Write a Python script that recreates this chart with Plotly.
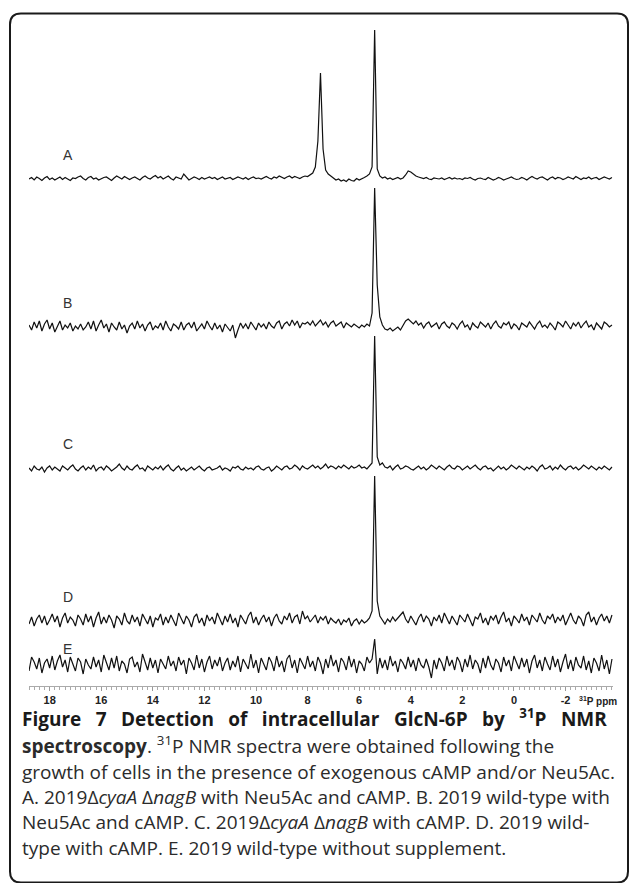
import numpy as np
import plotly.graph_objects as go

# ---------------- data ----------------
PPM_MAX, PPM_STEP, N_PTS = 18.8, 0.1, 227
ppm = np.round(PPM_MAX - PPM_STEP * np.arange(N_PTS), 2)

trace_labels = ["A", "B", "C", "D", "E"]

spec_A = [
    0, 1.5, -1, 2, 0.5, -1.5, 1, 2.5, -0.5, 1,
    -1, 0.5, 2, -0.5, 1.5, 0, -1.5, 1, 0.5, 2,
    3, 0.5, -1, 1.5, 2.5, 0, 1, -1, 0.5, 1.5,
    2, 0, -1.5, 1, 3, 1.5, 0, 2.5, 1, -0.5,
    1, 2, 0.5, -1, 1.5, 3, 1, 0, 2, 3.5,
    1, 2.5, 0, 1.5, 3, 0.5, -1, 2, 1, 0,
    5, 1.5, -1, 0.5, 2, 1, -0.5, 1.5, 0, 1,
    2, 0.5, 1.5, -0.5, 1, 2, 0, 1, 1.5, -0.5,
    0.5, 2, 1, 0, 1.5, -0.5, 1, 2, 0.5, 1,
    0, 1.5, 2.5, 1, 0, 2, 1, 3, 1.5, 0.5,
    2, 3, 1, 2.5, 1.5, 0.5, 2, 3, 2.5, 4,
    6, 12, 38, 106, 30, 9, 5, 3, 1, -1,
    0, -2, -1, -2.5, 0, -1.5, -2, 0.5, -1, 0,
    1.5, 3, 5, 12, 149, 10, 3, 1, 2, 0,
    1, -0.5, 0.5, 1.5, 0, 1, 4, 8, 7, 5,
    3, 2, 1, 0.5, 1.5, 0, -0.5, 1, 0.5, 0,
    1, -0.5, 0.5, 1.5, 0, 1, 0, 0.5, -0.5, 1,
    0.5, 1.5, 0, -1, 0.5, 1, 0, -0.5, 1.5, 0.5,
    -1, 0, 1.5, 0.5, -1, 0, 1, 2, 0.5, -0.5,
    0, 1.5, 0.5, -1, 1, 2.5, 1, 0, 1.5, 2,
    0.5, -1, 1, 2, 0, 1.5, 1, -0.5, 0.5, 2,
    1, 0, 2.5, 1, -0.5, 1, 0.5, 2, 0, 1,
    1.5, -0.5, 0.5, 2, 1, 0, 1.5,
]

spec_B = [
    2, -3, 5, -1, 6, -4, 3, 7, -2, 4,
    -5, 1, 6, -3, 2, -1, 4, -4, 1, -2,
    3, -3, 0, 5, -2, 6, -4, 2, 7, -1,
    3, -5, 4, 0, -3, 5, -2, 2, -6, 1,
    4, -2, 6, -1, 3, -4, 2, 5, -3, 1,
    -1, 4, -3, 6, 0, -4, 3, 1, -2, 5,
    -3, 2, 4, -1, 5, -4, 0, 3, -2, 6,
    1, -3, 4, -2, 2, -5, 3, 0, -4, 2,
    -11, -3, 4, -1, 3, -2, 5, 1, -3, 4,
    0, 3, -2, 5, 1, -1, 4, 6, -2, 3,
    5, 1, 7, 2, 6, -1, 4, 3, 5, 2,
    6, 1, 4, 7, 2, 5, 0, 4, 6, 1,
    3, 5, -1, 4, 2, 0, 3, 1, -1, 2,
    0, 3, 1, 14, 139, 42, 10, 2, -2, -3,
    -1, -4, -2, 0, -3, 1, 6, 8, 5, 3,
    6, 2, 4, -1, 3, 5, 0, 2, 4, -2,
    3, 5, 1, -1, 4, 2, -2, 3, 6, 0,
    2, -3, 4, 1, -1, 5, 2, 0, 4, -2,
    3, 6, 1, -1, 4, 2, 5, -2, 3, 1,
    -3, 4, 2, 0, 5, 1, -2, 3, 6, 0,
    2, -1, 4, 1, -3, 5, 3, 0, 6, 2,
    -2, 4, 1, 5, -1, 3, 6, 0, 2, -3,
    4, 1, -2, 5, 3, 0, 2,
]

spec_C = [
    1, -2, 3, 0, -1, 2, -3, 1, 3, -1,
    2, 0, -2, 3, 1, -1, 2, 4, 0, -2,
    1, 3, -1, 2, 0, 4, -2, 1, 2, -1,
    3, 1, -2, 0, 2, 5, 1, -1, 3, 0,
    -1, 2, 4, 0, 1, -2, 3, 1, -1, 2,
    0, 3, -1, 2, 4, 0, -2, 1, 3, -1,
    1, -2, 0, 2, -1, 1, 3, 0, -2, 1,
    2, -1, 0, 1, 3, -1, 1, 0, -2, 2,
    1, 3, 0, -1, 2, 0, 1, -1, 2, 3,
    0, -1, 1, 2, -2, 0, 3, 1, -1, 2,
    3, 0, 1, 4, 2, -1, 3, 1, 0, 2,
    4, 1, 3, 0, 2, 5, 1, 3, 2, 0,
    3, 1, 4, 2, 0, 3, 1, 2, 4, 1,
    2, 0, 3, 6, 133, 12, 4, 6, 2, 1,
    3, -1, 2, 4, 0, 1, 3, 2, 0, -1,
    1, 3, 0, 2, -1, 1, 4, 2, 0, 3,
    1, -1, 2, 4, 1, 0, 3, 2, -1, 1,
    3, 0, 2, 4, 1, -1, 2, 3, 0, 1,
    -2, 1, 3, 0, 2, -1, 1, 4, 2, 0,
    3, 1, -1, 2, 0, 3, 1, -2, 2, 4,
    0, 1, 3, -1, 2, 0, 4, 1, -1, 2,
    3, 0, 2, -1, 1, 4, 2, 0, 3, 1,
    -1, 2, 0, 3, 1, -1, 2,
]

spec_D = [
    -3, 4, -5, 2, 6, -2, 5, -4, 1, 7,
    -1, 5, -6, 3, 8, -2, 4, 1, -5, 6,
    2, -4, 7, -1, 5, -6, 3, 9, -3, 4,
    -2, 6, 1, -7, 5, 2, -4, 8, 0, -3,
    6, -1, 4, -5, 7, 2, -3, 5, -6, 3,
    1, 7, -4, 4, -2, 6, 0, -5, 8, 2,
    -3, 5, 1, -6, 4, 7, -2, 3, -5, 6,
    0, 4, -3, 8, 2, -4, 5, -1, 7, -2,
    3, -6, 6, 1, -3, 5, 9, -2, 4, -4,
    2, 6, -1, 4, -5, 3, 7, 0, -3, 5,
    1, 8, -2, 4, 6, -3, 10, 2, 5, -1,
    3, 6, -2, 4, 1, 5, -3, 3, 0, -2,
    2, -4, 1, -1, 3, -5, 0, 2, -3, 1,
    -2, 0, 3, 10, 145, 20, 5, 1, -3, 2,
    -1, 4, 0, 3, 6, 9, 2, -2, 5, 1,
    -4, 3, 7, -1, 5, 2, -5, 4, 0, 6,
    -2, 8, 3, -3, 5, 1, -4, 6, 2, -1,
    7, 0, -5, 4, 2, 8, -2, 3, -4, 5,
    1, 6, -3, 4, 9, -1, 3, -5, 5, 2,
    -2, 7, 0, 4, -4, 6, 3, -1, 8, 1,
    -3, 5, 2, 7, -2, 4, 0, 6, -4, 3,
    8, 1, -3, 5, 2, -5, 6, 9, -1, 4,
    -4, 3, 7, 0, 5, -2, 6,
]

spec_E = [
    -6, 8, 3, -4, 7, -8, 2, 6, -3, 9,
    -5, 4, 10, -2, 5, -7, 8, 1, -6, 7,
    3, -9, 6, 0, -4, 8, -2, 5, -7, 10,
    2, -5, 7, -3, 9, -6, 4, 1, -8, 6,
    8, -2, 3, -7, 11, 2, -5, 7, -3, 5,
    -8, 6, 1, -4, 9, -1, 4, -6, 8, 0,
    5, -9, 7, 2, -5, 10, -3, 6, -7, 3,
    9, -4, 5, -1, 8, -6, 2, 7, -5, 4,
    -2, 9, -7, 6, 1, -4, 11, -3, 5, -8,
    7, 0, -5, 8, 3, -6, 9, -2, 4, -7,
    6, 10, -3, 5, -8, 7, 1, -4, 9, -2,
    4, -6, 8, 2, -9, 6, -3, 10, -1, 5,
    -7, 7, 3, -5, 9, -2, 6, -8, 4, 1,
    -6, 8, 2, 6, 26, -9, 7, -3, 5, -5,
    9, -1, 4, -7, 6, 2, -4, 8, -2, 5,
    -6, 7, 0, -3, 6, -2, -13, 5, -4, 7,
    2, -6, 9, -1, 5, -5, 8, 3, -7, 6,
    -2, 10, -4, 5, 1, -8, 7, -3, 9, 0,
    -5, 6, 2, -7, 8, -1, 5, -6, 9, 3,
    -4, 7, -2, 6, -8, 4, 10, -3, 5, -6,
    8, 1, -5, 9, -2, 6, -7, 3, 11, -4,
    5, -6, 8, 0, -3, 9, -5, 4, -8, 7,
    2, -6, 10, -4, 5, -9, 6,
]

spectra = [spec_A, spec_B, spec_C, spec_D, spec_E]

tick_values = [18, 16, 14, 12, 10, 8, 6, 4, 2, 0, -2]
tick_labels = [str(v) for v in tick_values]
axis_label = "<sup>31</sup>P ppm"

J = " \u2002"  # widened word gap for the justified first caption line
caption_lines = [
    "<b>" + J.join(["Figure", "7", "Detection", "of", "intracellular", "GlcN-6P", "by",
                    "<sup>31</sup>P", "NMR"]) + "</b>",
    "<b>spectroscopy</b>. <sup>31</sup>P NMR spectra were obtained following the",
    "growth of cells in the presence of exogenous cAMP and/or Neu5Ac.",
    "A. 2019\u0394<i>cyaA</i> \u0394<i>nagB</i> with Neu5Ac and cAMP. B. 2019 wild-type with",
    "Neu5Ac and cAMP. C. 2019\u0394<i>cyaA</i> \u0394<i>nagB</i> with cAMP. D. 2019 wild-",
    "type with cAMP. E. 2019 wild-type without supplement.",
]

# ---------------- layout geometry ----------------
W, H = 629, 883
ML, MR, MT, MB = 29, 16, 14, 197
PW, PH = W - ML - MR, H - MT - MB

# vertical offset of each stacked spectrum (y units == pixels above plot bottom)
offsets = [507, 359, 217, 65, 21]
label_dy = [24, 24, 25, 24, 16]
LABEL_PPM = 17.3


def px2paper(x, y):
    return (x - ML) / PW, (H - MB - y) / PH


fig = go.Figure()
for lab, spec, off in zip(trace_labels, spectra, offsets):
    n = min(len(spec), len(ppm))
    fig.add_trace(go.Scatter(
        x=ppm[:n], y=np.array(spec[:n], dtype=float) + off,
        mode="lines", line=dict(color="#111111", width=1.2),
        hoverinfo="skip", showlegend=False, name=lab))

annotations = []
for lab, off, dy in zip(trace_labels, offsets, label_dy):
    annotations.append(dict(
        x=LABEL_PPM, y=off + dy, xref="x", yref="y", text=lab,
        showarrow=False, xanchor="center", yanchor="middle",
        font=dict(family="Liberation Sans, Arial", size=14, color="#333333")))

# axis unit label
ax_x, ax_y = px2paper(578, 701)
annotations.append(dict(
    x=ax_x, y=ax_y, xref="paper", yref="paper", text=axis_label,
    showarrow=False, xanchor="left", yanchor="middle", borderpad=0,
    font=dict(family="Liberation Sans, Arial", size=10, color="#222222", weight="bold")))

# caption
cap_y = [718, 745, 772, 797, 822, 848]
for i, (line, yy) in enumerate(zip(caption_lines, cap_y)):
    cx, cy = px2paper(20, yy)
    annotations.append(dict(
        x=cx, y=cy, xref="paper", yref="paper", text=line,
        showarrow=False, xanchor="left", yanchor="middle", align="left",
        font=dict(family="Open Sans", size=19,
                  color="#1a1a1a" if i == 0 else "#2b2b2b")))

# rounded border
bx0, by0, bx1, by1, rad = 10, 13.5, 628, 882.5, 11


def P(x, y):
    a, b = px2paper(x, y)
    return f"{a:.5f},{b:.5f}"


path = (f"M {P(bx0 + rad, by0)} L {P(bx1 - rad, by0)} Q {P(bx1, by0)} {P(bx1, by0 + rad)} "
        f"L {P(bx1, by1 - rad)} Q {P(bx1, by1)} {P(bx1 - rad, by1)} "
        f"L {P(bx0 + rad, by1)} Q {P(bx0, by1)} {P(bx0, by1 - rad)} "
        f"L {P(bx0, by0 + rad)} Q {P(bx0, by0)} {P(bx0 + rad, by0)} Z")

fig.update_layout(
    width=W, height=H,
    margin=dict(l=ML, r=MR, t=MT, b=MB, pad=0),
    paper_bgcolor="white", plot_bgcolor="white",
    annotations=annotations,
    shapes=[dict(type="path", path=path, xref="paper", yref="paper",
                 line=dict(color="#1a1a1a", width=2), layer="above")],
    xaxis=dict(
        range=[PPM_MAX, -3.84], tickmode="array", tickvals=tick_values, ticktext=tick_labels,
        showgrid=False, zeroline=False, showline=True, linecolor="#aaaaaa", linewidth=1,
        ticks="outside", ticklen=4, tickcolor="#999999", tickwidth=1,
        minor=dict(tickmode="linear", tick0=0, dtick=0.2, ticks="outside", ticklen=3,
                   tickcolor="#aaaaaa", showgrid=False),
        tickfont=dict(family="Liberation Sans, Arial", size=11, color="#222222", weight="bold"),
        fixedrange=True),
    yaxis=dict(range=[0, PH], visible=False, fixedrange=True),
)

fig.write_html(
    "out.html",
    config={"displayModeBar": False},
    post_script="document.body.style.margin='0';document.body.style.overflow='hidden';",
)
